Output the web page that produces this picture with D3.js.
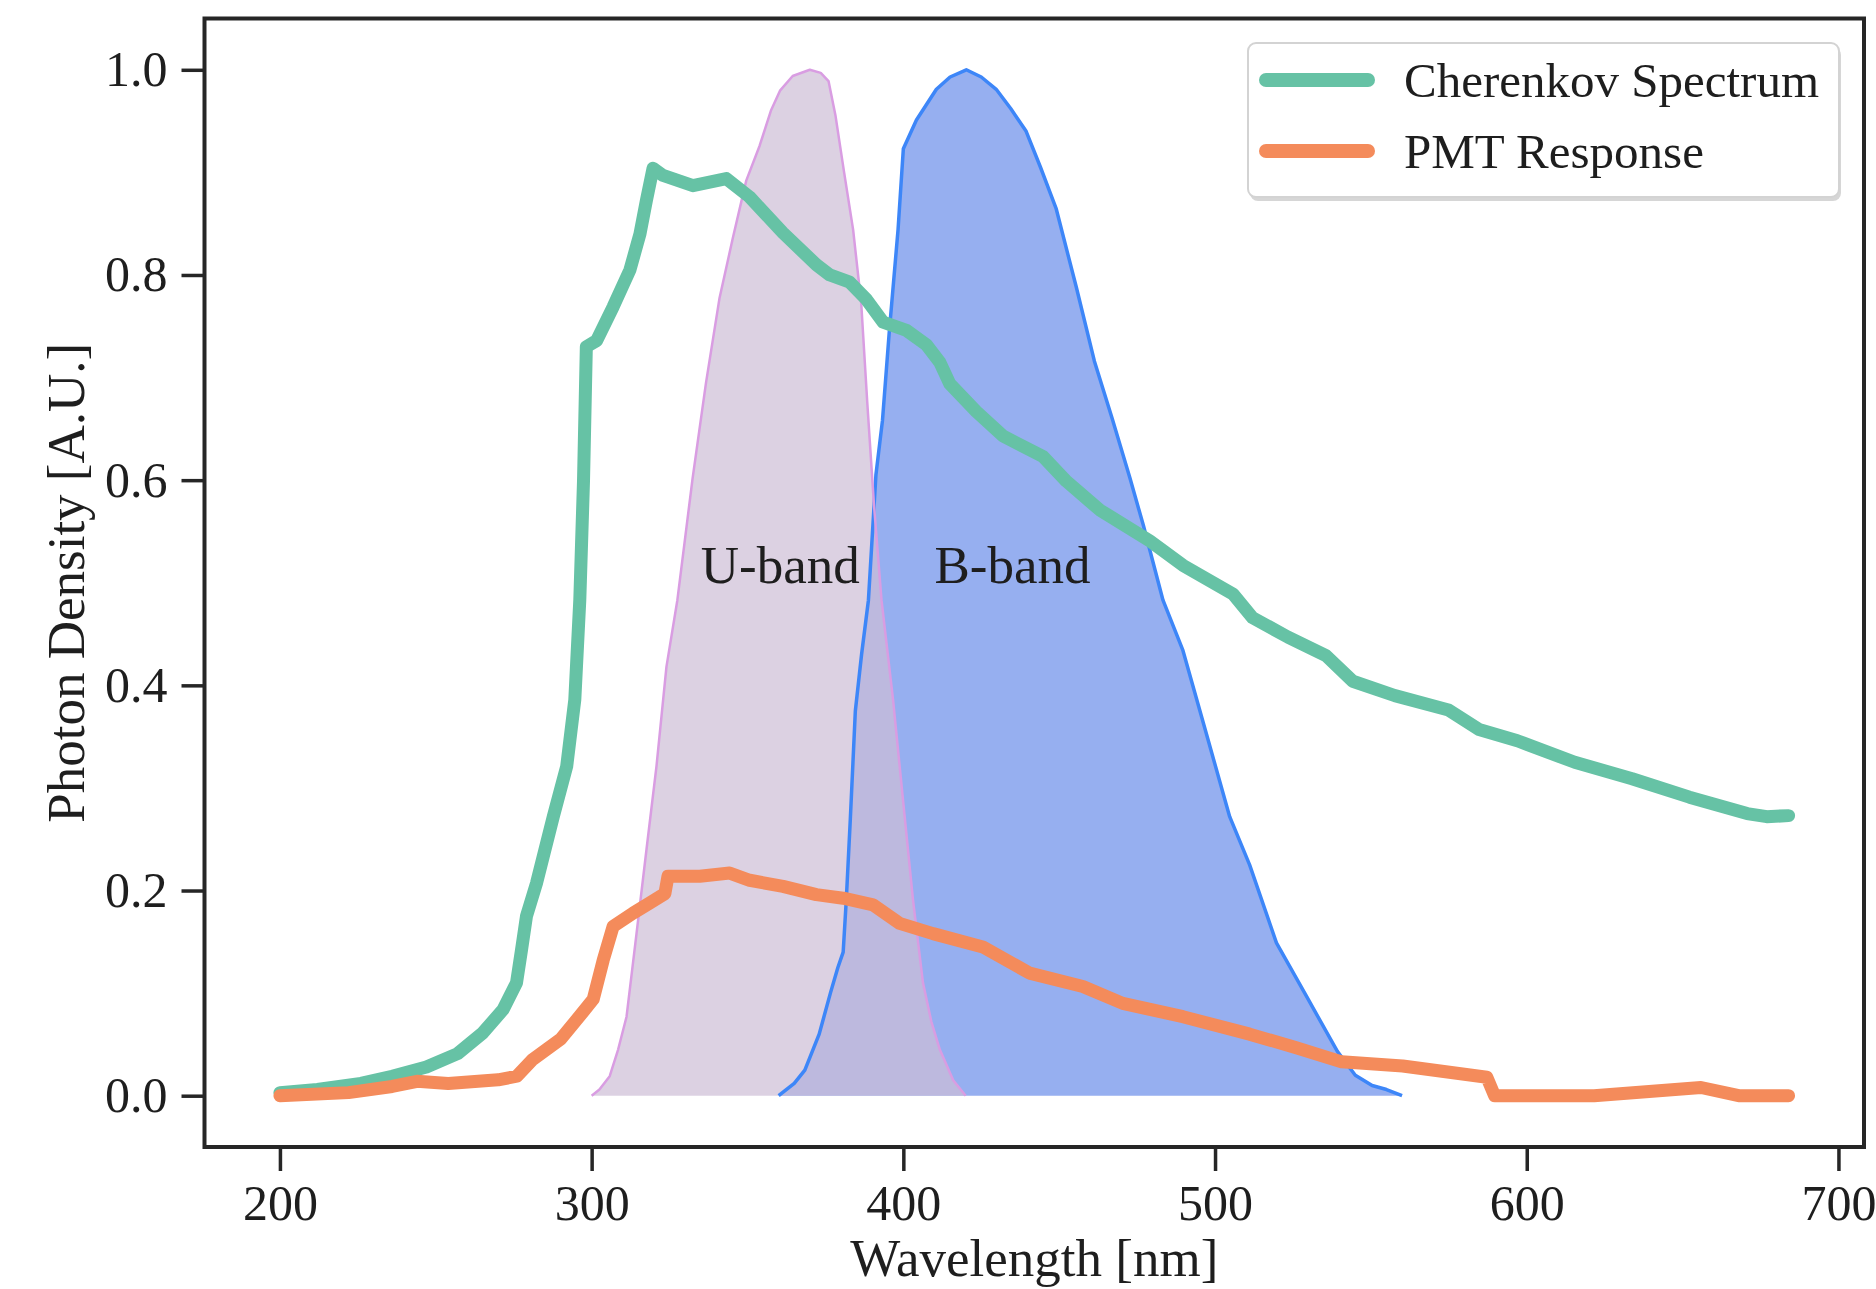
<!DOCTYPE html>
<html>
<head>
<meta charset="utf-8">
<script src="https://cdn.jsdelivr.net/npm/d3@7"></script>
<style>
    html, body { margin: 0; padding: 0; background: #fff; }
    svg { display: block; }
    text { font-family: 'Liberation Serif', 'Times New Roman', serif; fill: #1e1e1e; }
</style>
</head>
<body>
<svg width="1876" height="1289"></svg>
<script>
// values (wavelength in nm, density in A.U.)
const cherenkovWavelength = [200, 212, 226, 236, 247, 257, 265, 271.6, 275.9, 277.5, 279.1, 282.3, 287.7, 292, 294.6, 296.2, 297.4, 298.3, 301.6, 306.9, 312.3, 315.5, 317.6, 319.7, 322.9, 332.5, 343.2, 350.7, 361.4, 372.1, 376.4, 382.8, 388.2, 393.5, 401, 407.4, 411.7, 414.9, 423.4, 432, 444.8, 452.3, 463, 479, 489.7, 505.8, 512, 523.4, 535.6, 544.2, 557.7, 574.9, 584.7, 597, 615.4, 633.8, 652.2, 670.7, 677, 684];
const cherenkovDensity = [0.003, 0.006, 0.012, 0.019, 0.028, 0.041, 0.061, 0.084, 0.11, 0.142, 0.175, 0.207, 0.272, 0.321, 0.386, 0.483, 0.6, 0.73, 0.736, 0.769, 0.805, 0.84, 0.873, 0.904, 0.897, 0.887, 0.894, 0.876, 0.841, 0.81, 0.8, 0.793, 0.776, 0.754, 0.746, 0.732, 0.715, 0.694, 0.667, 0.643, 0.623, 0.599, 0.571, 0.541, 0.517, 0.489, 0.466, 0.447, 0.429, 0.404, 0.39, 0.376, 0.357, 0.346, 0.325, 0.309, 0.291, 0.275, 0.272, 0.273];

const pmtWavelength = [200, 222, 236, 244, 254, 270, 276, 281, 290, 296, 300.5, 303.7, 306.9, 313.3, 318.7, 323.5, 324.5, 334.7, 344.3, 350.7, 361.4, 372.1, 380.7, 390.3, 398.8, 409.5, 425.5, 440.5, 457.6, 470.4, 489.7, 511.1, 525.8, 540.6, 560.2, 587.2, 589.7, 621.6, 655.9, 668, 684];
const pmtResponse = [0, 0.003, 0.009, 0.014, 0.012, 0.0155, 0.019, 0.035, 0.055, 0.077, 0.094, 0.132, 0.165, 0.178, 0.188, 0.197, 0.214, 0.214, 0.217, 0.21, 0.204, 0.196, 0.1925, 0.186, 0.168, 0.158, 0.145, 0.1195, 0.1065, 0.09, 0.077, 0.06, 0.047, 0.033, 0.029, 0.018, 0, 0, 0.008, 0, 0];

const uBandWavelength = [300, 302.5, 305.8, 308.5, 311.2, 314.4, 317.6, 320.8, 324, 327.5, 332.4, 336.7, 341, 345.3, 349.6, 353.9, 357.5, 360.5, 364.5, 370, 373.5, 376, 378.2, 381, 383.9, 386.5, 388.4, 390.6, 393, 396.7, 399.9, 403.1, 406.3, 409, 411.7, 416, 420];
const uBandDensity = [0, 0.006, 0.019, 0.045, 0.077, 0.158, 0.24, 0.321, 0.418, 0.483, 0.602, 0.695, 0.777, 0.836, 0.892, 0.926, 0.96, 0.98, 0.994, 1.0, 0.997, 0.989, 0.956, 0.9, 0.844, 0.772, 0.677, 0.575, 0.483, 0.386, 0.288, 0.191, 0.11, 0.072, 0.045, 0.015, 0];

const bBandWavelength = [360, 365, 368.4, 373, 376.6, 379, 380.7, 381.7, 383, 384.6, 386.6, 388.8, 391.2, 393.3, 395.5, 398.3, 400, 404.2, 410.6, 415, 420.2, 425, 429.8, 434.5, 439.4, 444, 449, 455.5, 461.3, 467, 472.7, 477, 483.3, 489.7, 497.2, 504.7, 511.1, 519.7, 529.5, 539.3, 545, 550.4, 555, 560];
const bBandDensity = [0, 0.012, 0.025, 0.06, 0.1, 0.125, 0.14, 0.191, 0.27, 0.375, 0.43, 0.483, 0.605, 0.658, 0.745, 0.844, 0.923, 0.951, 0.981, 0.993, 1.0, 0.993, 0.981, 0.962, 0.94, 0.905, 0.865, 0.788, 0.716, 0.66, 0.602, 0.556, 0.483, 0.434, 0.353, 0.272, 0.225, 0.149, 0.096, 0.043, 0.02, 0.01, 0.006, 0];

const xTicks = [200, 300, 400, 500, 600, 700];
const yTicks = [0.0, 0.2, 0.4, 0.6, 0.8, 1.0];
const legendLabels = ['Cherenkov Spectrum', 'PMT Response'];
const bandNames = ['U-band', 'B-band'];
const bandLabelWavelength = [335, 410];

const cherenkov = d3.zip(cherenkovWavelength, cherenkovDensity);
const pmt = d3.zip(pmtWavelength, pmtResponse);
const uBand = d3.zip(uBandWavelength, uBandDensity);
const bBand = d3.zip(bBandWavelength, bBandDensity);

// plot box in pixels
const plotLeft = 204.5;
const plotRight = 1864;
const plotTop = 18.5;
const plotBottom = 1147;

const xScale = d3.scaleLinear().domain([175.8, 708.2]).range([plotLeft, plotRight]);
const yScale = d3.scaleLinear().domain([-0.05, 1.05]).range([plotBottom, plotTop]);

const svg = d3.select('svg');

const areaGen = d3
    .area()
    .x((d) => xScale(d[0]))
    .y0(yScale(0))
    .y1((d) => yScale(d[1]));

const lineGen = d3
    .line()
    .x((d) => xScale(d[0]))
    .y((d) => yScale(d[1]));

// filled bands: B first, U over it with alpha
svg.append('path').attr('d', areaGen(bBand)).attr('fill', '#96aff0');
svg.append('path')
    .attr('d', areaGen(uBand))
    .attr('fill', '#cdbdd6')
    .attr('fill-opacity', 0.7);

svg.append('path')
    .attr('d', lineGen(bBand))
    .attr('fill', 'none')
    .attr('stroke', '#3d86f8')
    .attr('stroke-width', 3.5)
    .attr('stroke-linejoin', 'round');
svg.append('path')
    .attr('d', lineGen(uBand))
    .attr('fill', 'none')
    .attr('stroke', '#d99de2')
    .attr('stroke-width', 2.5)
    .attr('stroke-linejoin', 'round');

// spectra
svg.append('path')
    .attr('d', lineGen(cherenkov))
    .attr('fill', 'none')
    .attr('stroke', '#66c2a5')
    .attr('stroke-width', 13)
    .attr('stroke-linejoin', 'round')
    .attr('stroke-linecap', 'round');
svg.append('path')
    .attr('d', lineGen(pmt))
    .attr('fill', 'none')
    .attr('stroke', '#f48b5b')
    .attr('stroke-width', 13)
    .attr('stroke-linejoin', 'round')
    .attr('stroke-linecap', 'round');

// band labels
svg.selectAll('.band-label')
    .data(bandNames)
    .join('text')
    .attr('class', 'band-label')
    .attr('x', (d, i) => xScale(bandLabelWavelength[i]))
    .attr('y', yScale(0.5))
    .attr('font-size', 53)
    .text((d) => d);

// axes
const xAxis = d3
    .axisBottom(xScale)
    .tickValues(xTicks)
    .tickFormat(d3.format('d'))
    .tickSize(24)
    .tickPadding(13);
const yAxis = d3
    .axisLeft(yScale)
    .tickValues(yTicks)
    .tickFormat(d3.format('.1f'))
    .tickSize(23)
    .tickPadding(14);

const xAxisG = svg.append('g').attr('transform', `translate(0,${plotBottom})`).call(xAxis);
const yAxisG = svg.append('g').attr('transform', `translate(${plotLeft},0)`).call(yAxis);

[xAxisG, yAxisG].forEach((g) => {
    g.select('.domain').remove();
    g.selectAll('.tick line').attr('stroke', '#262626').attr('stroke-width', 3.5);
    g.selectAll('.tick text')
        .attr('font-size', 50)
        .attr('font-family', "'Liberation Serif', 'Times New Roman', serif")
        .attr('fill', '#1e1e1e');
});

// frame
svg.append('rect')
    .attr('x', plotLeft)
    .attr('y', plotTop)
    .attr('width', plotRight - plotLeft)
    .attr('height', plotBottom - plotTop)
    .attr('fill', 'none')
    .attr('stroke', '#262626')
    .attr('stroke-width', 4);

// axis labels
svg.append('text')
    .attr('x', (plotLeft + plotRight) / 2)
    .attr('y', 1276)
    .attr('text-anchor', 'middle')
    .attr('font-size', 53)
    .text('Wavelength [nm]');

svg.append('text')
    .attr('transform', `translate(84,${(plotTop + plotBottom) / 2}) rotate(-90)`)
    .attr('text-anchor', 'middle')
    .attr('font-size', 53)
    .text('Photon Density [A.U.]');

// legend
const legend = svg.append('g').attr('transform', 'translate(1248,43)');
legend.append('rect')
    .attr('x', 2)
    .attr('y', 4)
    .attr('width', 591)
    .attr('height', 154)
    .attr('rx', 8)
    .attr('fill', '#d6d6d6');
legend.append('rect')
    .attr('width', 591)
    .attr('height', 154)
    .attr('rx', 8)
    .attr('fill', '#fff')
    .attr('stroke', '#d3d3d3')
    .attr('stroke-width', 2);

const legendColors = ['#66c2a5', '#f48b5b'];
const rows = legend
    .selectAll('.row')
    .data(legendLabels)
    .join('g')
    .attr('class', 'row')
    .attr('transform', (d, i) => `translate(0,${37 + i * 71})`);
rows.append('line')
    .attr('x1', 18)
    .attr('x2', 120)
    .attr('stroke', (d, i) => legendColors[i])
    .attr('stroke-width', 14)
    .attr('stroke-linecap', 'round');
rows.append('text')
    .attr('x', 156)
    .attr('y', 17)
    .attr('font-size', 49)
    .text((d) => d);
</script>
</body>
</html>
